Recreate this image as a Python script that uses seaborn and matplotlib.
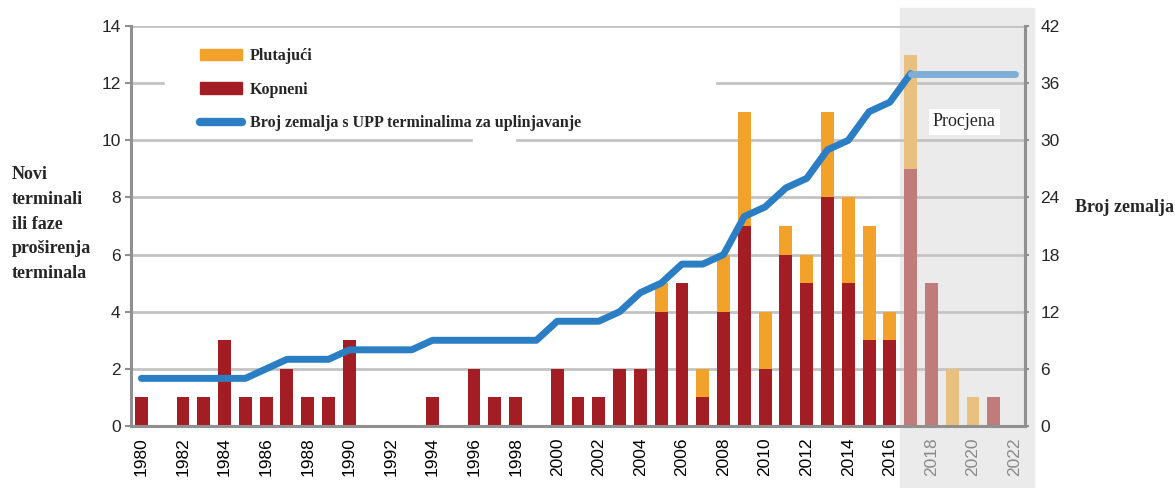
import matplotlib
matplotlib.use('Agg')
import numpy as np
import pandas as pd
import matplotlib.pyplot as plt
import seaborn as sns
from matplotlib.lines import Line2D
from matplotlib.patches import Patch, Rectangle

# Data
years = list(range(1980, 2023))
onshore = [1, 0, 1, 1, 3, 1, 1, 2, 1, 1,
           3, 0, 0, 0, 1, 0, 2, 1, 1, 0,
           2, 1, 1, 2, 2, 4, 5, 1, 4, 7,
           2, 6, 5, 8, 5, 3, 3, 9, 5, 0,
           0, 1, 0]
floating = [0, 0, 0, 0, 0, 0, 0, 0, 0, 0,
            0, 0, 0, 0, 0, 0, 0, 0, 0, 0,
            0, 0, 0, 0, 0, 1, 0, 1, 2, 4,
            2, 1, 1, 3, 3, 4, 1, 4, 0, 2,
            1, 0, 0]
countries = [5, 5, 5, 5, 5, 5, 6, 7, 7, 7,
             8, 8, 8, 8, 9, 9, 9, 9, 9, 9,
             11, 11, 11, 12, 14, 15, 17, 17, 18, 22,
             23, 25, 26, 29, 30, 33, 34, 37, 37, 37,
             37, 37, 37]
last_actual = 2016

RED, ORANGE, BLUE = '#a31d24', '#f2a12a', '#2b7ec3'
RED_F, ORANGE_F, BLUE_F = '#c07b7b', '#e8c080', '#7eadd6'
GRID = '#c3c3c3'
SPINE = '#909090'

df = pd.DataFrame({'year': [str(y) for y in years],
                   'onshore': onshore,
                   'total': [a + b for a, b in zip(onshore, floating)]})
est = {str(y): y > last_actual for y in years}
pal_tot = {k: (ORANGE_F if v else ORANGE) for k, v in est.items()}
pal_on = {k: (RED_F if v else RED) for k, v in est.items()}

sns.set_style('white')
plt.rcParams['font.family'] = ['Liberation Sans', 'DejaVu Sans']

fig = plt.figure(figsize=(11.75, 4.88), dpi=100)
# shaded "estimate" zone behind everything
fig.patches.append(Rectangle((900 / 1175, 0), 134 / 1175, 1 - 8 / 488,
                             transform=fig.transFigure, color='#ebebeb',
                             zorder=-5))
# white box behind the legend (hides the gridline like in the original)
fig.patches.append(Rectangle((165 / 1175, 1 - 134 / 488), 550 / 1175, 100 / 488,
                             transform=fig.transFigure, color='white',
                             zorder=1))
fig.patches.append(Rectangle((473 / 1175, 1 - 142 / 488), 42 / 1175, 8 / 488,
                             transform=fig.transFigure, color='white',
                             zorder=1))

ax = fig.add_axes([131 / 1175, 1 - 426 / 488, 894 / 1175, 400 / 488])
ax.set_facecolor('none')
ax.set_axisbelow(True)

sns.barplot(data=df, x='year', y='total', hue='year', palette=pal_tot,
            legend=False, width=0.62, saturation=1, errorbar=None,
            linewidth=0, ax=ax)
sns.barplot(data=df, x='year', y='onshore', hue='year', palette=pal_on,
            legend=False, width=0.62, saturation=1, errorbar=None,
            linewidth=0, ax=ax)

ax.set_xlim(-0.5, len(years) - 0.5)
ax.set_ylim(0, 14)
ax.set_yticks(range(0, 15, 2))
ax.yaxis.grid(True, color=GRID, lw=2)
ax.set_xlabel('')
ax.set_ylabel('')

ax.set_xticks(range(0, len(years), 2))
ax.set_xticklabels([str(y) for y in years[::2]], rotation=90)
for lab, y in zip(ax.get_xticklabels(), years[::2]):
    lab.set_color('#8a8a8a' if y > last_actual else '#000000')
ax.set_xticks(np.arange(-0.5, len(years), 1), minor=True)
ax.tick_params(axis='x', which='major', length=0, labelsize=12.5, pad=8)
ax.tick_params(axis='x', which='minor', length=6, width=1.5, color=SPINE)
ax.tick_params(axis='y', length=4, width=1.5, color=SPINE, labelsize=12.5,
               left=True)

for s in ['top', 'right']:
    ax.spines[s].set_visible(False)
for s in ['left', 'bottom']:
    ax.spines[s].set_color(SPINE)
    ax.spines[s].set_linewidth(2.2)

# countries line on right axis
ax2 = ax.twinx()
ax2.set_facecolor('none')
idx = list(range(len(years)))
cut = years.index(last_actual + 1) + 1
sns.lineplot(x=idx[:cut], y=countries[:cut], color=BLUE, lw=5,
             solid_capstyle='round', ax=ax2)
sns.lineplot(x=idx[cut - 1:], y=countries[cut - 1:], color=BLUE_F, lw=5,
             solid_capstyle='round', ax=ax2)
ax2.set_ylim(0, 42)
ax2.set_yticks(range(0, 43, 6))
ax2.set_xlim(-0.5, len(years) - 0.5)
ax2.tick_params(axis='y', length=3, width=1.5, color=SPINE, labelsize=12.5,
                pad=8)
for s in ['top', 'left', 'bottom']:
    ax2.spines[s].set_visible(False)
ax2.spines['right'].set_color(SPINE)
ax2.spines['right'].set_linewidth(2.2)

# legend
handles = [Patch(color=ORANGE, label='Plutajući'),
           Patch(color=RED, label='Kopneni'),
           Line2D([], [], color=BLUE, lw=6, solid_capstyle='round',
                  label='Broj zemalja s UPP terminalima za uplinjavanje')]
fig.legend(handles=handles, loc='upper left',
           bbox_to_anchor=(200 / 1175, 1 - 48 / 488),
           frameon=False, borderpad=0, borderaxespad=0,
           prop={'family': 'Liberation Serif', 'weight': 'bold', 'size': 11.5},
           handlelength=2.6, handleheight=0.7, handletextpad=0.5,
           labelspacing=1.1)

serif_bold = dict(family='Liberation Serif', weight='bold', size=13)
fig.text(12 / 1175, 1 - 166 / 488,
         'Novi\nterminali\nili faze\nproširenja\nterminala',
         ha='left', va='top', linespacing=1.6, **serif_bold)
fig.text(1075 / 1175, 1 - 208 / 488, 'Broj zemalja', ha='left', va='center',
         **serif_bold)
fig.text(933 / 1175, 1 - 122 / 488, 'Procjena', ha='left', va='center',
         family='Liberation Serif', size=13,
         bbox=dict(facecolor='white', edgecolor='none', pad=3))

fig.savefig('out.png', dpi=100)
